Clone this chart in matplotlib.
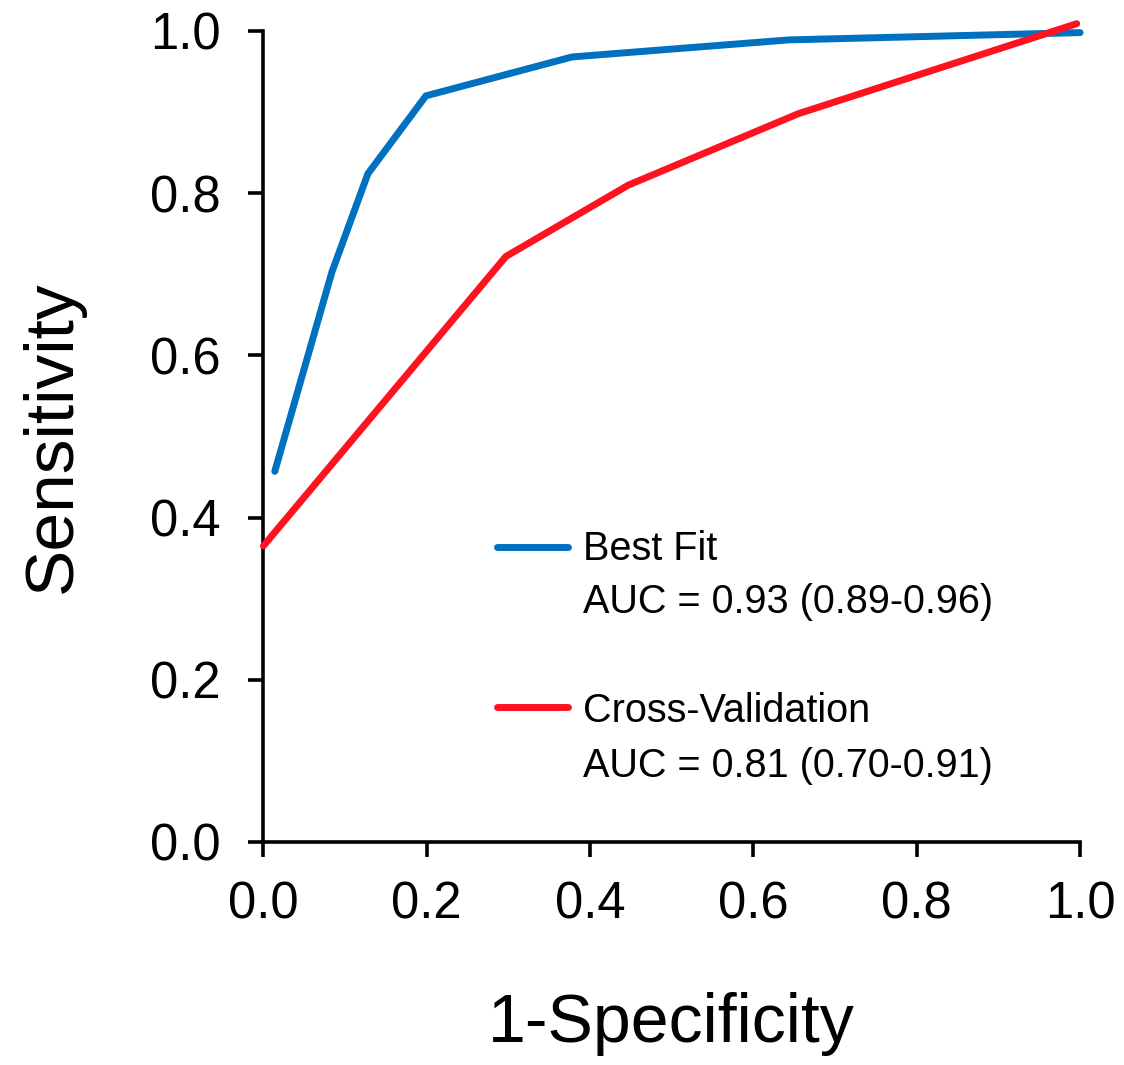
"""ROC curves: best fit vs cross-validation."""

import matplotlib

matplotlib.use("Agg")
import matplotlib.pyplot as plt

# ROC points
best_fpr = [0.014, 0.084, 0.128, 0.199, 0.378, 0.643, 1.0]
best_tpr = [0.457, 0.703, 0.824, 0.920, 0.968, 0.989, 0.998]
cv_fpr = [0.0, 0.297, 0.447, 0.655, 0.996]
cv_tpr = [0.365, 0.722, 0.810, 0.898, 1.009]

series_names = ["Best Fit", "Cross-Validation"]
auc_labels = ["AUC = 0.93 (0.89-0.96)", "AUC = 0.81 (0.70-0.91)"]
series_colors = ["#0070C0", "#FF1220"]
ticks = [0.0, 0.2, 0.4, 0.6, 0.8, 1.0]

plt.rcParams["font.family"] = ["Liberation Sans", "DejaVu Sans"]


def main() -> None:
    fig = plt.figure(figsize=(11.24, 10.65), dpi=100)
    ax = fig.add_axes([0.2343, 0.2094, 0.7266, 0.7615])

    for fpr, tpr, color in zip([best_fpr, cv_fpr], [best_tpr, cv_tpr], series_colors):
        ax.plot(fpr, tpr, color=color, lw=5.0, solid_capstyle="round",
                solid_joinstyle="round", clip_on=False, zorder=3)

    ax.set_xlim(0, 1)
    ax.set_ylim(0, 1)
    ax.set_xticks(ticks)
    ax.set_yticks(ticks)
    ax.set_xticklabels([f"{t:.1f}" for t in ticks])
    ax.set_yticklabels([f"{t:.1f}" for t in ticks])
    for side in ("top", "right"):
        ax.spines[side].set_visible(False)
    for side in ("left", "bottom"):
        ax.spines[side].set_linewidth(2.6)
    ax.tick_params(axis="both", direction="out", length=10.8, width=2.6,
                   labelsize=36.5)
    ax.tick_params(axis="y", pad=20)
    ax.tick_params(axis="x", pad=17)

    ax.set_xlabel("1-Specificity", fontsize=49)
    ax.set_ylabel("Sensitivity", fontsize=50)
    ax.xaxis.set_label_coords(0.5, -0.185)
    ax.yaxis.set_label_coords(-0.218, 0.5)

    # hand-placed legend so the handle sits on the first text line
    handle_y = [0.364, 0.166]
    text_y = [(0.348, 0.282), (0.148, 0.080)]
    for name, auc, color, hy, (ty1, ty2) in zip(series_names, auc_labels,
                                               series_colors, handle_y, text_y):
        ax.plot([0.286, 0.373], [hy, hy], color=color, lw=5.0,
                solid_capstyle="round", transform=ax.transAxes)
        ax.text(0.391, ty1, name, transform=ax.transAxes, fontsize=28.5,
                va="baseline", ha="left")
        ax.text(0.391, ty2, auc, transform=ax.transAxes, fontsize=28.5,
                va="baseline", ha="left")

    fig.savefig("out.png", dpi=100)
    plt.close(fig)


if __name__ == "__main__":
    main()
